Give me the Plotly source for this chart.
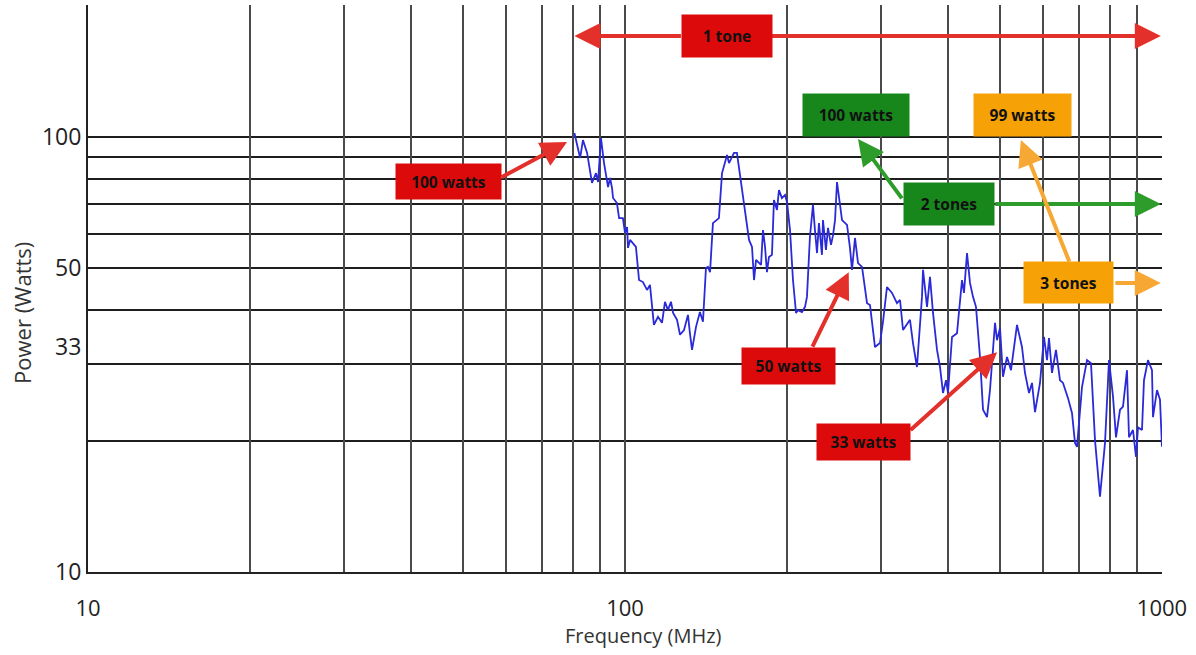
import math
import plotly.graph_objects as go

# Measured forward power versus frequency (MHz, Watts)
freq_mhz = [
    80.5, 82.5, 83.5, 85.0, 86.8, 88.3, 89.1, 90.2, 91.4, 93.0,
    93.8, 94.6, 95.0, 96.6, 97.5, 99.1, 100.0, 100.9, 101.3, 102.2,
    104.8, 106.2, 108.0, 109.9, 111.3, 112.3, 113.2, 115.2, 117.2, 118.7,
    120.2, 121.8, 122.9, 125.0, 126.6, 128.8, 131.0, 132.1, 133.3, 135.6,
    136.8, 137.9, 139.7, 141.5, 142.7, 144.0, 145.8, 148.4, 149.6, 151.6,
    152.9, 154.9, 156.2, 158.2, 159.6, 161.6, 163.0, 165.1, 167.3, 170.2,
    172.4, 173.9, 175.4, 177.6, 179.2, 180.7, 182.3, 183.8, 185.4, 187.8,
    189.4, 191.9, 193.5, 196.0, 198.6, 200.3, 202.9, 205.5, 208.2, 210.0,
    213.6, 216.4, 218.2, 221.0, 223.9, 225.8, 227.8, 229.7, 232.7, 233.7,
    236.7, 238.8, 241.9, 244.0, 246.1, 248.2, 250.3, 253.6, 259.1, 262.4,
    264.7, 268.1, 271.6, 276.3, 282.3, 285.9, 292.1, 298.4, 302.3, 307.5,
    314.2, 321.0, 325.2, 329.4, 339.4, 343.8, 349.7, 357.3, 358.9, 365.1,
    369.8, 374.6, 381.1, 386.0, 391.0, 396.1, 399.5, 406.4, 415.2, 424.2,
    427.8, 433.4, 439.0, 444.7, 450.4, 458.2, 464.2, 472.2, 478.3, 488.7,
    492.9, 499.3, 505.7, 514.5, 523.4, 537.0, 548.6, 555.7, 565.4, 572.7,
    580.1, 592.7, 602.9, 610.7, 616.0, 624.0, 634.7, 645.7, 654.1, 668.3,
    679.8, 688.6, 694.6, 709.6, 725.0, 737.5, 750.3, 766.5, 783.2, 796.7,
    810.5, 821.0, 835.2, 846.0, 860.6, 868.0, 883.1, 894.5, 902.2, 917.8,
    925.7, 941.7, 958.0, 962.1, 978.8, 991.4, 1000.0,
]
power_w = [
    102.1, 89.5, 98.4, 91.9, 78.4, 82.6, 78.8, 99.5, 87.1, 76.7,
    80.5, 76.3, 72.4, 70.5, 65.1, 65.1, 60.2, 62.1, 55.6, 58.0,
    55.9, 46.9, 46.4, 44.5, 45.7, 40.0, 37.0, 38.6, 37.4, 41.8,
    40.0, 41.8, 39.4, 38.0, 35.1, 36.0, 39.0, 35.4, 32.4, 36.6,
    38.0, 39.6, 37.6, 50.0, 50.3, 48.9, 63.4, 64.4, 65.1, 82.6,
    86.2, 90.9, 87.1, 90.0, 91.9, 91.9, 85.3, 75.5, 68.0, 58.0,
    55.9, 46.9, 52.2, 51.3, 50.8, 61.1, 55.9, 48.9, 53.0, 53.6,
    71.6, 68.0, 75.5, 72.4, 73.6, 70.9, 61.1, 46.9, 39.4, 40.0,
    39.6, 40.7, 42.9, 58.9, 69.8, 61.1, 54.1, 63.4, 53.6, 64.4,
    55.0, 61.8, 56.5, 59.5, 64.4, 78.8, 72.8, 64.4, 62.8, 55.6,
    49.5, 58.6, 51.3, 50.3, 41.5, 41.1, 32.9, 33.6, 37.6, 45.2,
    43.8, 41.5, 42.2, 36.0, 38.0, 33.6, 29.6, 42.9, 49.5, 40.7,
    47.7, 39.4, 32.4, 29.6, 25.8, 27.6, 25.8, 34.7, 35.4, 46.9,
    43.8, 54.1, 46.2, 42.9, 40.7, 31.2, 23.6, 22.7, 26.2, 37.4,
    34.1, 36.4, 28.1, 31.2, 29.1, 37.0, 32.9, 28.7, 25.8, 27.2,
    23.3, 27.2, 34.7, 30.7, 34.5, 28.7, 32.4, 27.6, 27.2, 25.1,
    23.2, 19.8, 19.4, 26.6, 30.7, 30.2, 20.1, 14.9, 19.8, 30.7,
    25.3, 20.4, 23.6, 24.0, 29.1, 20.4, 21.2, 18.4, 21.5, 21.2,
    27.6, 30.7, 29.1, 22.7, 26.2, 24.9, 19.4,
]

# Axis ticks and grid
x_grid = [10, 20, 30, 40, 50, 60, 70, 80, 90,
          100, 200, 300, 400, 500, 600, 700, 800, 900, 1000]
x_labels = ["10"] + [""] * 8 + ["100"] + [""] * 8 + ["1000"]
y_labels = [10, 33, 50, 100]
y_grid = [20, 30, 40, 50, 60, 70, 80, 90, 100]

RED, RED_ARROW = "#dc0a0a", "#e3302b"
GREEN, GREEN_ARROW = "#17871c", "#2e9c2a"
ORANGE, ORANGE_ARROW = "#f6a106", "#f7a734"

fig = go.Figure()
fig.add_trace(go.Scatter(
    x=freq_mhz, y=power_w, mode="lines",
    line=dict(color="#2a2ad8", width=1.8),
    hoverinfo="x+y", showlegend=False,
))

LX = math.log10


def box(text, f, p, w, h, color):
    fig.add_annotation(
        x=LX(f), y=LX(p), xref="x", yref="y", text=f"<b>{text}</b>",
        showarrow=False, width=w, height=h, bgcolor=color, borderpad=0,
        font=dict(family="Open Sans", size=15.5, color="#111"),
    )


def arrow(f, p, ax, ay, color, width=4):
    fig.add_annotation(
        x=LX(f), y=LX(p), xref="x", yref="y", text="",
        showarrow=True, ax=ax, ay=ay, arrowcolor=color,
        arrowwidth=width, arrowhead=2, arrowsize=1.3,
    )


# Single tone band
arrow(80.5, 170.7, 108, 0, RED_ARROW)
arrow(995, 170.7, -391, 0, RED_ARROW)
box("1 tone", 154.9, 170.7, 90, 42, RED)

# Single tone power levels
arrow(78.0, 97.4, -67, 36, RED_ARROW)
box("100 watts", 47.0, 79.2, 105, 35, RED)
arrow(261, 48.9, -37, 76, RED_ARROW)
box("50 watts", 201.2, 29.8, 93, 36, RED)
arrow(493, 32.0, -88, 79, RED_ARROW)
box("33 watts", 277.5, 19.9, 93, 36, RED)

# Two tones
arrow(271.6, 99.0, 45, 61, GREEN_ARROW)
arrow(995, 70.1, -167, 0, GREEN_ARROW)
box("100 watts", 269.3, 112.3, 106, 42, GREEN)
box("2 tones", 401.2, 70.2, 90, 42, GREEN)

# Three tones
arrow(546, 98.4, 49, 123, ORANGE_ARROW)
arrow(995, 46.2, -47, 0, ORANGE_ARROW)
box("99 watts", 548.7, 112.3, 97, 42, ORANGE)
box("3 tones", 671.1, 46.2, 89, 41, ORANGE)

# Axis titles
fig.add_annotation(
    x=0.5168, y=-0.112, xref="paper", yref="paper", text="Frequency (MHz)",
    showarrow=False, xanchor="center", yanchor="middle",
    font=dict(family="Open Sans", size=20, color="#333"),
)
fig.add_annotation(
    x=-0.0615, y=0.4568, xref="paper", yref="paper", text="Power (Watts)",
    showarrow=False, xanchor="center", yanchor="middle", textangle=-90,
    font=dict(family="Open Sans", size=22, color="#333"),
)

fig.update_layout(
    width=1196, height=655,
    margin=dict(l=88, r=34, t=5, b=83),
    paper_bgcolor="white", plot_bgcolor="white",
    font=dict(family="Open Sans", color="#222"),
    xaxis=dict(
        type="log", range=[1, 3],
        tickmode="array", tickvals=x_grid, ticktext=x_labels,
        showgrid=True, gridcolor="#4a4a4a", gridwidth=2,
        showline=True, linecolor="#222", linewidth=2,
        ticks="", ticklabelstandoff=16,
        tickfont=dict(size=22, color="#222"),
        zeroline=False,
    ),
    yaxis=dict(
        type="log", range=[1, 1 + 567 / 435],
        tickmode="array", tickvals=y_labels, ticktext=[str(v) for v in y_labels],
        showgrid=False,
        minor=dict(tickmode="array", tickvals=y_grid, showgrid=True,
                   gridcolor="#1e1e1e", gridwidth=2, ticks=""),
        showline=True, linecolor="#222", linewidth=2,
        ticks="", ticklabelstandoff=0,
        tickfont=dict(size=23, color="#222"),
        zeroline=False,
    ),
)

fig.write_html("out.html")
